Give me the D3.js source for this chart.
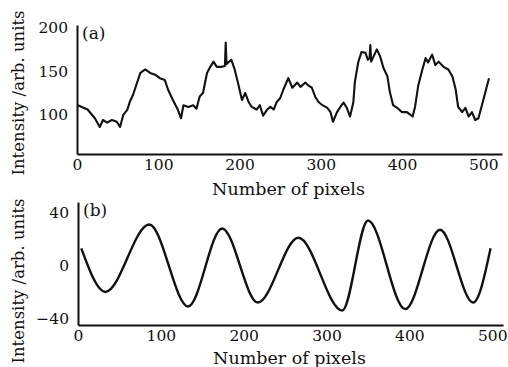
<!DOCTYPE html>
<html>
<head>
<meta charset="utf-8">
<script src="https://cdn.jsdelivr.net/npm/d3@7"></script>
<style>
  body { margin: 0; background: #fff; }
  svg { display: block; font-family: 'DejaVu Serif', serif; }
</style>
</head>
<body>
<svg width="508" height="367"></svg>
<script>
// panel (a): measured intensity along the row
const topPixels = [1, 13, 22, 28, 32, 37, 43, 49, 53, 57, 62, 65, 69, 74, 78, 84, 90, 96, 102, 108,
  112, 118, 124, 128, 131, 137, 143, 147, 151, 155, 160, 164, 168, 172, 178, 182, 183, 184, 186, 190,
  194, 198, 201, 203, 207, 211, 215, 221, 225, 229, 234, 238, 242, 246, 250, 254, 260, 265, 271, 275,
  281, 284, 289, 293, 297, 302, 308, 312, 315, 320, 324, 328, 332, 336, 340, 342, 346, 350, 355, 358,
  360, 361, 362, 363, 369, 373, 377, 382, 385, 389, 394, 400, 406, 413, 416, 420, 425, 429, 432, 437,
  441, 445, 451, 457, 462, 466, 469, 474, 478, 482, 486, 490, 494, 500, 507]
const topIntensity = [111, 106, 96, 86, 94, 91, 94, 92, 86, 100, 106, 115, 123, 137, 148, 152, 148, 146, 142, 140,
  129, 117, 106, 96, 111, 109, 111, 107, 121, 125, 148, 155, 161, 155, 155, 156, 183, 158, 160, 163,
  152, 137, 125, 117, 125, 115, 109, 106, 111, 99, 106, 109, 106, 115, 119, 129, 142, 131, 137, 132,
  137, 134, 131, 121, 115, 111, 108, 103, 92, 103, 109, 114, 108, 98, 114, 138, 160, 172, 171, 163,
  165, 180, 161, 163, 175, 167, 154, 144, 126, 111, 108, 103, 103, 98, 109, 134, 152, 165, 160, 169,
  157, 161, 155, 152, 144, 129, 109, 103, 108, 98, 103, 94, 96, 117, 142]

// panel (b): filtered signal, turning points
const bottomPixels = [4, 33, 86, 133, 174, 217, 266, 319, 350, 395, 437, 477, 498]
const bottomIntensity = [13, -20, 31, -31, 28, -28, 21, -34, 34, -33, 27, -28, 13]

const xTicks = [0, 100, 200, 300, 400, 500]
const topYTicks = [100, 150, 200]
const bottomYTicks = [-40, 0, 40]

const svg = d3.select('svg')

drawPanel({
  xs: topPixels, ys: topIntensity, yTicks: topYTicks, tag: '(a)',
  xDomain: [0, 523], xRange: [77, 502], yDomain: [55, 203], yRange: [154, 25],
  curve: d3.curveLinear, lineWidth: 2.1, xLabelY: 195, yLabelY: 93,
})

drawPanel({
  xs: bottomPixels, ys: bottomIntensity, yTicks: bottomYTicks, tag: '(b)',
  xDomain: [0, 513], xRange: [78, 503], yDomain: [-45, 48], yRange: [325, 202],
  curve: d3.curveMonotoneX, lineWidth: 2.4, xLabelY: 364, yLabelY: 281,
})

function drawPanel(p) {
  const x = d3.scaleLinear().domain(p.xDomain).range(p.xRange)
  const y = d3.scaleLinear().domain(p.yDomain).range(p.yRange)

  const xAxis = d3.axisBottom(x).tickValues(xTicks).tickSize(0).tickPadding(5)
  const yAxis = d3.axisLeft(y).tickValues(p.yTicks).tickSize(0).tickPadding(9)

  const gx = svg.append('g')
    .attr('transform', `translate(0,${p.yRange[0]})`)
    .call(xAxis)
  const gy = svg.append('g')
    .attr('transform', `translate(${p.xRange[0]},0)`)
    .call(yAxis)

  for (const g of [gx, gy]) {
    g.attr('font-family', null).attr('font-size', null)
    g.select('.domain').attr('stroke', '#111').attr('stroke-width', 2)
    g.selectAll('text').attr('fill', '#111').style('font-size', '15.5px')
  }

  const line = d3.line()
    .x((d, i) => x(p.xs[i]))
    .y((d) => y(d))
    .curve(p.curve)

  svg.append('path')
    .datum(p.ys)
    .attr('fill', 'none')
    .attr('stroke', '#111')
    .attr('stroke-width', p.lineWidth)
    .attr('stroke-linejoin', 'round')
    .attr('d', line)

  svg.append('text')
    .attr('x', p.xRange[0] + 5)
    .attr('y', p.yRange[1] + 14)
    .attr('fill', '#111')
    .style('font-size', '17px')
    .text(p.tag)

  svg.append('text')
    .attr('x', (p.xRange[0] + p.xRange[1]) / 2 - 1)
    .attr('y', p.xLabelY)
    .attr('text-anchor', 'middle')
    .attr('fill', '#111')
    .style('font-size', '17.5px')
    .text('Number of pixels')

  svg.append('text')
    .attr('transform', `translate(24,${p.yLabelY}) rotate(-90)`)
    .attr('text-anchor', 'middle')
    .attr('fill', '#111')
    .style('font-size', '16.5px')
    .text('Intensity /arb. units')
}
</script>
</body>
</html>
